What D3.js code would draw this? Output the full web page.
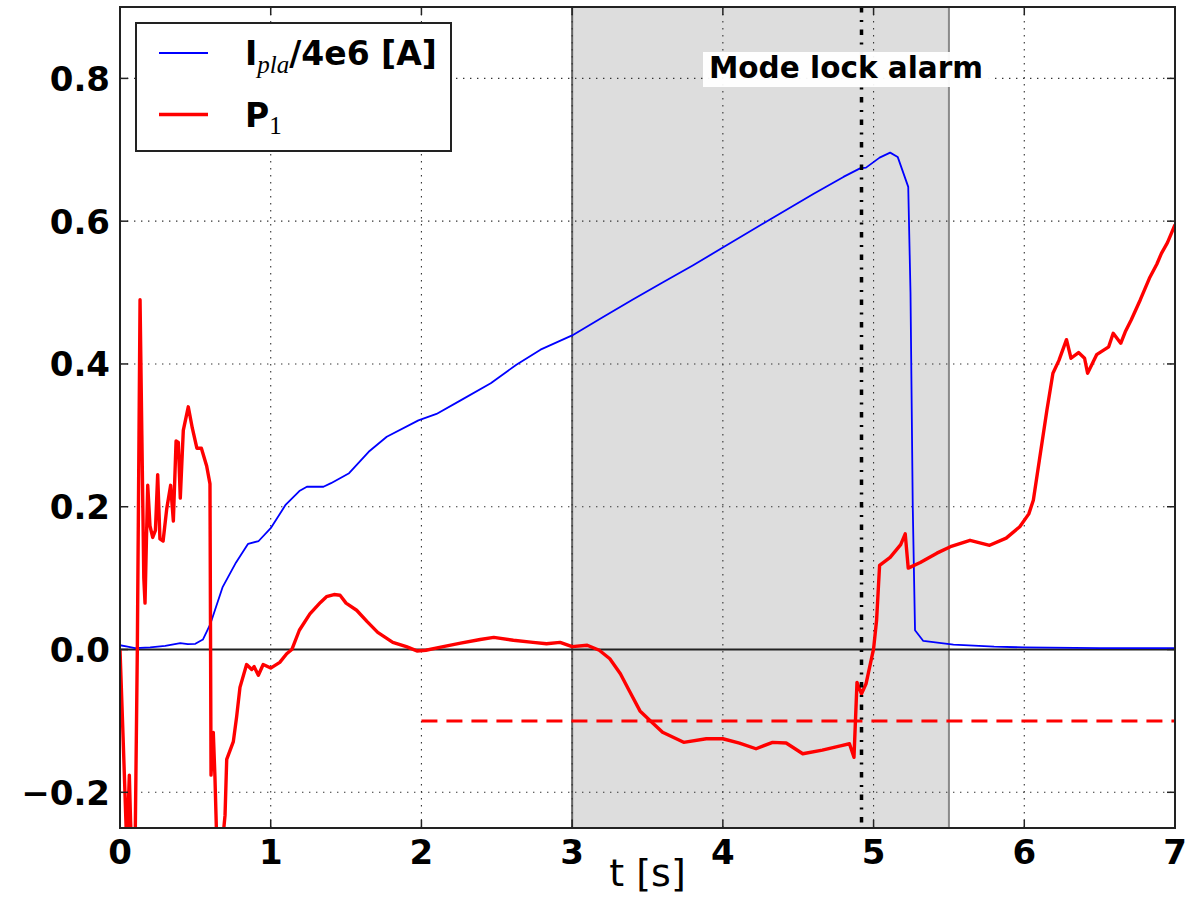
<!DOCTYPE html>
<html>
<head>
<meta charset="utf-8">
<script src="https://cdn.jsdelivr.net/npm/d3@7"></script>
<style>
  html, body { margin: 0; padding: 0; background: #ffffff; }
  svg { display: block; }
</style>
</head>
<body>
<svg id="chart" width="1196" height="919"></svg>
<script>
// Axis ticks
const xTicks = [0, 1, 2, 3, 4, 5, 6, 7];
const yTicks = [-0.2, 0.0, 0.2, 0.4, 0.6, 0.8];

// Plasma current divided by 4e6 [A]
const iplaT = [0, 0.05, 0.1, 0.2, 0.3, 0.4, 0.45, 0.5, 0.55, 0.6, 0.68, 0.77, 0.85, 0.92, 1.0, 1.1, 1.19, 1.24, 1.35, 1.4, 1.52, 1.65, 1.77, 1.98, 2.1, 2.26, 2.46, 2.63, 2.79, 3.0, 3.2, 3.4, 3.6, 3.8, 4.0, 4.31, 4.6, 4.8, 4.91, 4.95, 5.04, 5.11, 5.16, 5.23, 5.245, 5.26, 5.275, 5.33, 5.53, 5.8, 6.0, 6.5, 7.0];
const iplaV = [0.006, 0.004, 0.002, 0.003, 0.005, 0.009, 0.0075, 0.008, 0.014, 0.036, 0.087, 0.122, 0.148, 0.152, 0.17, 0.203, 0.222, 0.228, 0.228, 0.233, 0.247, 0.277, 0.298, 0.321, 0.33, 0.349, 0.373, 0.399, 0.42, 0.44, 0.465, 0.49, 0.514, 0.538, 0.563, 0.602, 0.638, 0.662, 0.674, 0.675, 0.689, 0.696, 0.69, 0.648, 0.5, 0.2, 0.027, 0.012, 0.007, 0.004, 0.003, 0.002, 0.002];

// Indicator P1
const p1T = [0, 0.02, 0.044, 0.055, 0.062, 0.07, 0.078, 0.1, 0.115, 0.133, 0.145, 0.158, 0.166, 0.175, 0.184, 0.199, 0.217, 0.235, 0.25, 0.265, 0.286, 0.31, 0.336, 0.354, 0.372, 0.387, 0.4, 0.42, 0.453, 0.48, 0.51, 0.54, 0.575, 0.597, 0.604, 0.619, 0.63, 0.642, 0.66, 0.68, 0.697, 0.708, 0.752, 0.774, 0.796, 0.84, 0.874, 0.89, 0.918, 0.95, 1.0, 1.06, 1.106, 1.14, 1.19, 1.26, 1.33, 1.37, 1.42, 1.46, 1.5, 1.57, 1.64, 1.71, 1.81, 1.9, 1.97, 2.03, 2.12, 2.26, 2.39, 2.48, 2.61, 2.74, 2.83, 2.92, 3.0, 3.1, 3.18, 3.25, 3.32, 3.38, 3.45, 3.52, 3.6, 3.74, 3.89, 4.0, 4.11, 4.22, 4.33, 4.42, 4.53, 4.66, 4.78, 4.84, 4.87, 4.89, 4.92, 4.95, 5.0, 5.02, 5.04, 5.11, 5.18, 5.21, 5.23, 5.31, 5.42, 5.51, 5.64, 5.77, 5.88, 5.97, 6.03, 6.06, 6.1, 6.15, 6.19, 6.23, 6.28, 6.31, 6.36, 6.4, 6.42, 6.48, 6.56, 6.59, 6.64, 6.67, 6.71, 6.77, 6.83, 6.88, 6.91, 6.95, 6.98, 7.0];
const p1V = [0, -0.12, -0.27, -0.22, -0.176, -0.24, -0.28, -0.28, 0.0, 0.49, 0.3, 0.1, 0.065, 0.15, 0.23, 0.173, 0.157, 0.167, 0.245, 0.155, 0.152, 0.197, 0.23, 0.18, 0.292, 0.29, 0.212, 0.307, 0.34, 0.31, 0.282, 0.282, 0.257, 0.232, -0.176, -0.116, -0.179, -0.27, -0.28, -0.27, -0.232, -0.154, -0.129, -0.094, -0.053, -0.021, -0.028, -0.024, -0.036, -0.021, -0.026, -0.018, -0.006, 0.0, 0.027, 0.05, 0.066, 0.074, 0.077, 0.076, 0.065, 0.055, 0.039, 0.024, 0.01, 0.004, -0.002, -0.001, 0.003, 0.009, 0.014, 0.017, 0.013, 0.01, 0.008, 0.01, 0.004, 0.006, -0.001, -0.013, -0.034, -0.058, -0.086, -0.1, -0.116, -0.13, -0.125, -0.125, -0.131, -0.139, -0.13, -0.131, -0.146, -0.141, -0.135, -0.132, -0.151, -0.046, -0.062, -0.048, 0.001, 0.041, 0.118, 0.129, 0.147, 0.162, 0.114, 0.122, 0.135, 0.144, 0.153, 0.146, 0.156, 0.172, 0.19, 0.209, 0.265, 0.335, 0.387, 0.405, 0.434, 0.408, 0.416, 0.408, 0.387, 0.413, 0.424, 0.443, 0.429, 0.445, 0.462, 0.49, 0.52, 0.54, 0.555, 0.57, 0.585, 0.595];

// Alarm threshold on P1, highlighted window and alarm time
const thresholdLevel = -0.1;
const thresholdFrom = 2.0;
const windowRange = [3.0, 5.5];
const alarmTime = 4.92;
const alarmLabel = "Mode lock alarm";

// Plot area
const plotL = 120, plotR = 1175, plotT = 7, plotB = 828;
const svg = d3.select("#chart");

const x = d3.scaleLinear().domain([0, 7]).range([plotL, plotR]);
const y = d3.scaleLinear().domain([-0.25, 0.9]).range([plotB, plotT]);

svg.append("defs").append("clipPath").attr("id", "plotClip")
  .append("rect").attr("x", plotL).attr("y", plotT)
  .attr("width", plotR - plotL).attr("height", plotB - plotT);

const plot = svg.append("g").attr("clip-path", "url(#plotClip)");

// Highlighted time window
plot.append("rect")
  .attr("x", x(windowRange[0])).attr("y", plotT)
  .attr("width", x(windowRange[1]) - x(windowRange[0]))
  .attr("height", plotB - plotT)
  .attr("fill", "#dddddd");
plot.append("line")
  .attr("x1", x(windowRange[0])).attr("x2", x(windowRange[0]))
  .attr("y1", plotT).attr("y2", plotB)
  .attr("stroke", "#666").attr("stroke-width", 2);
plot.append("line")
  .attr("x1", x(windowRange[1])).attr("x2", x(windowRange[1]))
  .attr("y1", plotT).attr("y2", plotB)
  .attr("stroke", "#8a8a8a").attr("stroke-width", 2);

// Dotted grid
const grid = plot.append("g");
grid.selectAll(".gx").data(xTicks).join("line")
  .attr("x1", d => x(d)).attr("x2", d => x(d))
  .attr("y1", plotT).attr("y2", plotB)
  .attr("stroke", "#333").attr("stroke-width", 1.1)
  .attr("stroke-dasharray", "1.4,5.6");
grid.selectAll(".gy").data(yTicks).join("line")
  .attr("x1", plotL).attr("x2", plotR)
  .attr("y1", d => y(d)).attr("y2", d => y(d))
  .attr("stroke", "#333").attr("stroke-width", 1.1)
  .attr("stroke-dasharray", "1.4,5.6");

// Zero reference line
plot.append("line")
  .attr("x1", plotL).attr("x2", plotR)
  .attr("y1", y(0)).attr("y2", y(0))
  .attr("stroke", "#222").attr("stroke-width", 1.8);

// Series
const lineGen = d3.line().x(d => x(d[0])).y(d => y(d[1]));
const iplaData = iplaT.map((t, i) => [t, iplaV[i]]);
const p1Data = p1T.map((t, i) => [t, p1V[i]]);

plot.append("path").datum(iplaData)
  .attr("d", lineGen)
  .attr("fill", "none").attr("stroke", "#0000ff")
  .attr("stroke-width", 1.8).attr("stroke-linejoin", "round");

// Threshold (dashed)
plot.append("line")
  .attr("x1", x(thresholdFrom)).attr("x2", x(7))
  .attr("y1", y(thresholdLevel)).attr("y2", y(thresholdLevel))
  .attr("stroke", "#ff0000").attr("stroke-width", 3)
  .attr("stroke-dasharray", "16,9");

plot.append("path").datum(p1Data)
  .attr("d", lineGen)
  .attr("fill", "none").attr("stroke", "#ff0000")
  .attr("stroke-width", 3.4).attr("stroke-linejoin", "round");

// Alarm time marker (dash-dot)
plot.append("line")
  .attr("x1", x(alarmTime)).attr("x2", x(alarmTime))
  .attr("y1", plotT).attr("y2", plotB)
  .attr("stroke", "#000").attr("stroke-width", 3.5)
  .attr("stroke-dasharray", "5.5,7.5,2,7.5");

// Alarm label with white box
const labelG = svg.append("g");
labelG.append("rect")
  .attr("x", 703).attr("y", 52).attr("width", 289).attr("height", 35)
  .attr("fill", "#ffffff").attr("fill-opacity", 0.95);
labelG.append("text")
  .attr("x", 709).attr("y", 78)
  .attr("font-family", "DejaVu Sans").attr("font-weight", "bold")
  .attr("font-size", 29.5).attr("fill", "#000")
  .text(alarmLabel);

// Frame
svg.append("rect")
  .attr("x", plotL).attr("y", plotT).attr("width", plotR - plotL).attr("height", plotB - plotT)
  .attr("fill", "none").attr("stroke", "#222").attr("stroke-width", 2);

// Inward ticks on all four sides
const tickLen = 8;
const ticks = svg.append("g").attr("stroke", "#222").attr("stroke-width", 1.5);
xTicks.forEach(d => {
  ticks.append("line").attr("x1", x(d)).attr("x2", x(d)).attr("y1", plotB).attr("y2", plotB - tickLen);
  ticks.append("line").attr("x1", x(d)).attr("x2", x(d)).attr("y1", plotT).attr("y2", plotT + tickLen);
});
yTicks.forEach(d => {
  ticks.append("line").attr("x1", plotL).attr("x2", plotL + tickLen).attr("y1", y(d)).attr("y2", y(d));
  ticks.append("line").attr("x1", plotR).attr("x2", plotR - tickLen).attr("y1", y(d)).attr("y2", y(d));
});

// Tick labels
const fmtY = d => (d < 0 ? "\u2212" : "") + Math.abs(d).toFixed(1);
svg.append("g").selectAll("text").data(xTicks).join("text")
  .attr("x", d => x(d)).attr("y", 864)
  .attr("text-anchor", "middle")
  .attr("font-family", "DejaVu Sans").attr("font-weight", "bold").attr("font-size", 34)
  .text(d => d);
svg.append("g").selectAll("text").data(yTicks).join("text")
  .attr("x", 110).attr("y", d => y(d) + 12.5)
  .attr("text-anchor", "end")
  .attr("font-family", "DejaVu Sans").attr("font-weight", "bold").attr("font-size", 34)
  .text(fmtY);

// Axis title
svg.append("text")
  .attr("x", (plotL + plotR) / 2).attr("y", 886)
  .attr("text-anchor", "middle")
  .attr("font-family", "DejaVu Sans").attr("font-size", 38)
  .text("t [s]");

// Legend
const lg = svg.append("g");
lg.append("rect")
  .attr("x", 136).attr("y", 23).attr("width", 315).attr("height", 128)
  .attr("fill", "#fff").attr("stroke", "#222").attr("stroke-width", 2);
lg.append("line").attr("x1", 159).attr("x2", 208).attr("y1", 53).attr("y2", 53)
  .attr("stroke", "#0000ff").attr("stroke-width", 1.8);
lg.append("line").attr("x1", 159).attr("x2", 208).attr("y1", 114.5).attr("y2", 114.5)
  .attr("stroke", "#ff0000").attr("stroke-width", 3.4);

const t1 = lg.append("text").attr("x", 245).attr("y", 65)
  .attr("font-family", "DejaVu Sans").attr("font-weight", "bold").attr("font-size", 33);
t1.append("tspan").text("I");
t1.append("tspan").attr("dy", 8)
  .attr("font-family", "Liberation Serif").attr("font-style", "italic")
  .attr("font-weight", "normal").attr("font-size", 25).text("pla");
t1.append("tspan").attr("dy", -8).text("/4e6 [A]");

const t2 = lg.append("text").attr("x", 245).attr("y", 126.5)
  .attr("font-family", "DejaVu Sans").attr("font-weight", "bold").attr("font-size", 33);
t2.append("tspan").text("P");
t2.append("tspan").attr("dy", 7)
  .attr("font-family", "Liberation Serif")
  .attr("font-weight", "normal").attr("font-size", 25).text("1");
</script>
</body>
</html>
